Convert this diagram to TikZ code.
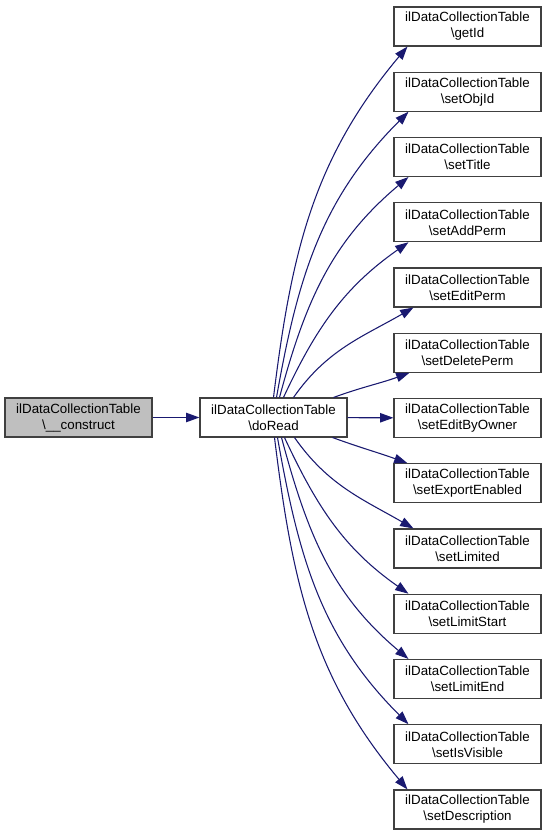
\documentclass[tikz,border=0pt]{standalone}
\usepackage{fontspec}
\setmainfont{Liberation Sans}
\usetikzlibrary{arrows.meta,calc}
\definecolor{edgeblue}{RGB}{25,25,112}
\definecolor{boxgray}{RGB}{191,191,191}
\definecolor{boxline}{RGB}{64,64,64}
\begin{document}
\begin{tikzpicture}[x=0.75pt,y=0.75pt,>={Triangle[length=10pt,width=7pt]},
  fn/.style={draw=boxline,line width=0.8pt,fill=white,minimum width=110.25pt,minimum height=29.25pt,inner sep=0pt,align=center,font=\fontsize{10}{12}\selectfont},
  call/.style={->,edgeblue,line width=0.8pt}]
\useasboundingbox (0,0) rectangle (547,836);
\node[fn,fill=boxgray] (construct) at (78.5,418.5) {ilDataCollectionTable\\\textbackslash\_\_construct};
\node[fn] (doRead) at (273.5,418.5) {ilDataCollectionTable\\\textbackslash doRead};
\foreach \n [count=\k from 0] in {getId,setObjId,setTitle,setAddPerm,setEditPerm,setDeletePerm,setEditByOwner,setExportEnabled,setLimited,setLimitStart,setLimitEnd,setIsVisible,setDescription}
  \node[fn] (\n) at (467.5,809.5-65.25*\k) {ilDataCollectionTable\\\textbackslash\n};
\draw[call] (construct) -- (doRead);
\draw[call] (doRead) -- (setEditByOwner);
\foreach \n/\s/\e/\o/\i in {getId/0/14/83/-130,setObjId/3/15/80/-135,setTitle/6/15/75/-140,setAddPerm/10/15/65/-145,setEditPerm/20/20/55/-150,setDeletePerm/60/16/20/-160}
  \draw[call] ($(doRead.north)+(\s,0)$) to[out=\o,in=\i] ($(\n.south west)+(\e,0)$);
\foreach \n/\s/\e/\o/\i in {setExportEnabled/59/14/-20/160,setLimited/21/20/-55/150,setLimitStart/11/15/-65/145,setLimitEnd/8/15/-75/140,setIsVisible/4/15/-80/135,setDescription/1/14/-83/130}
  \draw[call] ($(doRead.south)+(\s,0)$) to[out=\o,in=\i] ($(\n.north west)+(\e,0)$);
\end{tikzpicture}
\end{document}
